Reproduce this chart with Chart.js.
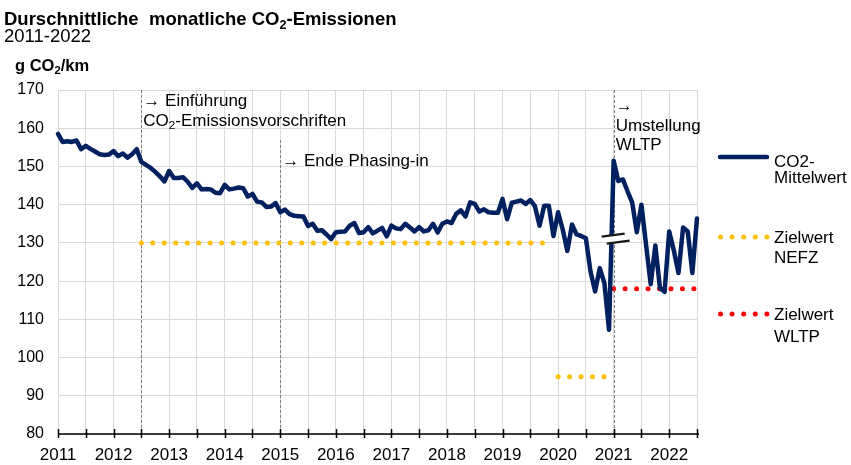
<!DOCTYPE html>
<html>
<head>
<meta charset="utf-8">
<script src="https://cdn.jsdelivr.net/npm/chart.js@4.4.1/dist/chart.umd.min.js"></script>
<style>
  html, body { margin: 0; padding: 0; background: #fff; }
</style>
</head>
<body>
<canvas id="co2Chart" width="851" height="465"></canvas>
<script>
var startYear = 2011;
var yearLabels = ["2011", "2012", "2013", "2014", "2015", "2016", "2017", "2018", "2019", "2020", "2021", "2022"];

// monthly average, Jan 2011 .. Jul 2022 (g CO2/km)
var co2Values = [
    158.5, 156.4, 156.6, 156.4, 156.8, 154.5, 155.4, 154.6, 153.9, 153.2, 153.0, 153.1, // 2011
    154.0, 152.7, 153.4, 152.3, 153.2, 154.5, 151.2, 150.4, 149.6, 148.6, 147.4, 146.1, // 2012
    148.8, 147.0, 147.0, 147.2, 146.0, 144.4, 145.6, 144.0, 144.1, 144.0, 143.1, 143.0, // 2013
    145.2, 144.0, 144.2, 144.5, 144.3, 142.1, 142.8, 140.8, 140.6, 139.4, 139.5, 140.4, // 2014
    138.0, 138.7, 137.5, 137.1, 137.0, 136.9, 134.4, 135.0, 133.2, 133.3, 132.2, 131.0, // 2015
    132.8, 132.9, 133.0, 134.5, 135.2, 132.6, 132.8, 134.1, 132.5, 133.2, 133.9, 131.7, // 2016
    134.5, 133.8, 133.6, 135.0, 134.0, 133.0, 134.1, 133.0, 133.3, 135.0, 132.7, 135.0, // 2017
    135.6, 135.2, 137.6, 138.5, 136.9, 140.6, 140.2, 138.2, 138.8, 138.0, 137.9, 137.9, // 2018
    141.5, 136.2, 140.5, 140.8, 141.1, 140.2, 141.2, 139.6, 134.5, 139.7, 139.7, 131.8, // 2019
    138.0, 133.5, 127.9, 134.8, 132.2, 131.8, 131.2, 122.5, 117.3, 123.4, 119.5, 107.3, // 2020
    151.5, 146.2, 146.6, 143.5, 140.6, 132.8, 140.0, 129.5, 119.2, 129.3, 118.2, 117.2, // 2021
    133.0, 128.0, 122.1, 134.0, 133.0, 122.1, 136.4                                     // 2022
];

var nefzTargets = [
    { from: "2012-07", to: "2019-10", value: 130 },
    { from: "2020-01", to: "2020-12", value: 95 }
];
var wltpTargets = [
    { from: "2021-01", to: "2022-07", value: 118 }
];

var events = [
    { month: "2012-07", text: [["→ Einführung"], ["CO", { sub: "2" }, "-Emissionsvorschriften"]] },
    { month: "2015-01", text: [["→ Ende Phasing-in"]] },
    { month: "2021-01", text: [["→"], ["Umstellung"], ["WLTP"]] }
];

var titleParts = ["Durschnittliche  monatliche CO", { sub: "2" }, "-Emissionen"];
var subtitle = "2011-2022";
var unitParts = ["g CO", { sub: "2" }, "/km"];

var FONT = '"Liberation Sans", Arial, sans-serif';
var NAVY = "#002060";
var GOLD = "#FFC000";
var RED = "#FF0000";

function monthIndex(s) {
    var p = s.split("-");
    return (parseInt(p[0]) - startYear) * 12 + parseInt(p[1]) - 1;
}

function targetPoints(list) {
    return list.map(function (t) {
        return [{ x: monthIndex(t.from), y: t.value }, { x: monthIndex(t.to), y: t.value }];
    });
}

function drawRich(ctx, x, y, parts, size, weight) {
    parts.forEach(function (p) {
        var sub = typeof p !== "string";
        var txt = sub ? p.sub : p;
        ctx.font = weight + " " + (sub ? size * 0.68 : size) + "px " + FONT;
        ctx.fillText(txt, x, sub ? y + size * 0.2 : y);
        x += ctx.measureText(txt).width;
    });
}

var dotted = function (color, pts) {
    return {
        data: pts,
        borderColor: color,
        borderWidth: 5,
        borderDash: [0.01, 11.45],
        borderCapStyle: "round",
        pointRadius: 0,
        fill: false,
        clip: 6,
    };
};

var datasets = [
    {
        label: "CO2-Mittelwert",
        data: co2Values.map(function (v, i) { return { x: i, y: v }; }),
        borderColor: NAVY,
        borderWidth: 4.5,
        borderJoinStyle: "round",
        borderCapStyle: "round",
        pointRadius: 0,
        tension: 0,
        fill: false,
        clip: 8,
    },
];
targetPoints(nefzTargets).forEach(function (pts) { datasets.push(dotted(GOLD, pts)); });
targetPoints(wltpTargets).forEach(function (pts) { datasets.push(dotted(RED, pts)); });

// layout of texts around the plot (pixel offsets from the plot top)
var eventLayout = [
    { lineTop: 0, baselines: [15.5, 36] },
    { lineTop: 50, baselines: [76] },
    { lineTop: 0, baselines: [21, 40.7, 60] }
];

var decorations = {
    id: "decorations",
    beforeDatasetsDraw: function (chart) {
        var ctx = chart.ctx, area = chart.chartArea, x = chart.scales.x;
        ctx.save();
        ctx.strokeStyle = "#7f7f7f";
        ctx.lineWidth = 1;
        ctx.setLineDash([3, 2]);
        events.forEach(function (ev, i) {
            var px = Math.round(x.getPixelForValue(monthIndex(ev.month))) + 0.5;
            ctx.beginPath();
            ctx.moveTo(px, area.top + eventLayout[i].lineTop);
            ctx.lineTo(px, area.bottom);
            ctx.stroke();
        });
        ctx.restore();
    },
    afterDatasetsDraw: function (chart) {
        var ctx = chart.ctx, area = chart.chartArea, x = chart.scales.x, y = chart.scales.y;
        ctx.save();

        // axis break mark at the NEFZ -> WLTP switch
        var bx = x.getPixelForValue(monthIndex("2021-01"));
        var by = y.getPixelForValue(131);
        ctx.fillStyle = "#fff";
        ctx.beginPath();
        ctx.moveTo(bx - 11, by - 3);
        ctx.lineTo(bx + 13, by - 6);
        ctx.lineTo(bx + 17, by + 1);
        ctx.lineTo(bx - 7, by + 4);
        ctx.closePath();
        ctx.fill();
        ctx.strokeStyle = "#1a1a1a";
        ctx.lineWidth = 2.2;
        ctx.beginPath();
        ctx.moveTo(bx - 12, by - 2.5);
        ctx.lineTo(bx + 11, by - 5.5);
        ctx.moveTo(bx - 7, by + 4.5);
        ctx.lineTo(bx + 16, by + 1.5);
        ctx.stroke();

        // x axis line with crossing ticks
        ctx.strokeStyle = "#000";
        ctx.lineWidth = 1.5;
        ctx.beginPath();
        ctx.moveTo(area.left, area.bottom);
        ctx.lineTo(area.right + 2, area.bottom);
        x.ticks.forEach(function (t) {
            var px = Math.round(x.getPixelForValue(t.value)) + 0.5;
            ctx.moveTo(px, area.bottom - 5);
            ctx.lineTo(px, area.bottom + 4);
        });
        ctx.stroke();

        // event annotations
        ctx.fillStyle = "#000";
        ctx.textBaseline = "alphabetic";
        ctx.textAlign = "left";
        events.forEach(function (ev, i) {
            var px = x.getPixelForValue(monthIndex(ev.month)) + 2;
            ev.text.forEach(function (parts, j) {
                drawRich(ctx, px, area.top + eventLayout[i].baselines[j], parts, 17, "normal");
            });
        });
        ctx.restore();
    },
    afterDraw: function (chart) {
        var ctx = chart.ctx, area = chart.chartArea;
        ctx.save();
        ctx.fillStyle = "#000";
        ctx.textBaseline = "alphabetic";
        ctx.textAlign = "left";
        drawRich(ctx, 4, 25, titleParts, 18.5, "bold");
        drawRich(ctx, 4, 41.5, [subtitle], 18.5, "normal");
        drawRich(ctx, 15, 70.5, unitParts, 16.5, "bold");

        // legend
        var lx = area.right + 21;
        var tx = lx + 56;
        ctx.strokeStyle = NAVY;
        ctx.lineWidth = 4.5;
        ctx.lineCap = "round";
        ctx.beginPath();
        ctx.moveTo(lx + 2, 157);
        ctx.lineTo(lx + 49, 157);
        ctx.stroke();
        [[GOLD, 237], [RED, 314]].forEach(function (d) {
            ctx.fillStyle = d[0];
            for (var k = 0; k < 5; k++) {
                ctx.beginPath();
                ctx.arc(lx + 2.5 + k * 11.6, d[1], 2.5, 0, Math.PI * 2);
                ctx.fill();
            }
        });
        ctx.fillStyle = "#000";
        var legendText = [["CO2-", 166.5], ["Mittelwert", 182.5], ["Zielwert", 242.5], ["NEFZ", 262.7], ["Zielwert", 320], ["WLTP", 341.5]];
        legendText.forEach(function (t) {
            drawRich(ctx, tx, t[1], [t[0]], 17, "normal");
        });
        ctx.restore();
    }
};

new Chart(document.getElementById("co2Chart"), {
    type: "line",
    data: { datasets: datasets },
    options: {
        responsive: false,
        animation: false,
        events: [],
        layout: { padding: { top: 90, right: 154, bottom: 0, left: 0 } },
        plugins: { legend: { display: false }, tooltip: { enabled: false } },
        scales: {
            x: {
                type: "linear",
                min: 0,
                max: co2Values.length - 1,
                afterFit: function (s) { s.height = 31; },
                border: { display: false },
                grid: { color: "#d9d9d9", lineWidth: 1, drawTicks: false },
                ticks: {
                    stepSize: 6,
                    autoSkip: false,
                    maxRotation: 0,
                    padding: 11,
                    color: "#000",
                    font: { family: FONT, size: 17 },
                    callback: function (v) {
                        return v % 12 === 0 ? yearLabels[v / 12] : "";
                    },
                },
            },
            y: {
                min: 80,
                max: 170,
                afterFit: function (s) { s.width = 58; },
                border: { display: false },
                grid: { color: "#d9d9d9", lineWidth: 1, drawTicks: false },
                ticks: {
                    stepSize: 10,
                    padding: 14,
                    color: "#000",
                    font: { family: FONT, size: 16 },
                },
            },
        },
    },
    plugins: [decorations],
});
</script>
</body>
</html>
